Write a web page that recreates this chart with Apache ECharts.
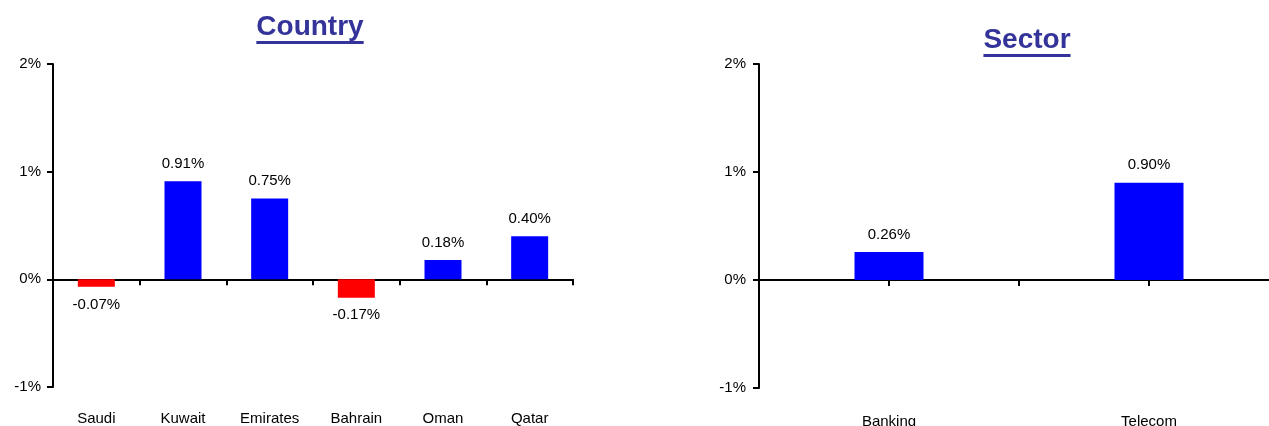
<!DOCTYPE html>
<html>
<head>
<meta charset="utf-8">
<script src="https://cdn.jsdelivr.net/npm/echarts@6/dist/echarts.min.js"></script>
<style>
    html, body { margin: 0; padding: 0; background: #fff; }
    #container { width: 1269px; height: 426px; }
</style>
</head>
<body>
<div id="container"></div>
<script>
// data (daily change, %)
var countries = ['Saudi', 'Kuwait', 'Emirates', 'Bahrain', 'Oman', 'Qatar'];
var countryChange = [-0.07, 0.91, 0.75, -0.17, 0.18, 0.40];
var sectors = ['Banking', 'Telecom'];
var sectorChange = [0.26, 0.90];
var yMin = -1, yMax = 2, yStep = 1;

var FONT = 'Arial, "Liberation Sans", sans-serif';
var TITLE_COLOR = '#333399';

var myChart = echarts.init(document.getElementById('container'));

// measure text to size the title underline
function textWidth(txt, font) {
    var ctx = document.createElement('canvas').getContext('2d');
    ctx.font = font;
    return ctx.measureText(txt).width;
}

function toBars(values) {
    return values.map(function (v) {
        return {
            value: v,
            itemStyle: {color: v < 0 ? '#ff0000' : '#0000ff'},
            label: {position: v < 0 ? 'bottom' : 'top'}
        };
    });
}

function yAxis(grid, margin) {
    return {
        type: 'value',
        gridIndex: grid,
        position: 'left',
        min: yMin,
        max: yMax,
        interval: yStep,
        splitLine: {show: false},
        axisLine: {show: true, lineStyle: {color: '#000', width: 2}},
        axisTick: {show: true, length: 6, lineStyle: {color: '#000', width: 2}},
        axisLabel: {
            margin: margin,
            color: '#000',
            fontSize: 15,
            fontFamily: FONT,
            formatter: '{value}%'
        }
    };
}

function titleGraphic(txt, cx, cy) {
    var font = 'bold 28px ' + FONT;
    var w = textWidth(txt, font);
    return [{
        type: 'text',
        x: cx,
        y: cy,
        style: {
            text: txt,
            fill: TITLE_COLOR,
            font: font,
            textAlign: 'center',
            textVerticalAlign: 'middle'
        }
    }, {
        type: 'rect',
        shape: {x: cx - w / 2, y: cy + 14, width: w, height: 3},
        style: {fill: TITLE_COLOR}
    }];
}

var barLabel = {
    show: true,
    distance: 10,
    color: '#000',
    fontSize: 15,
    fontFamily: FONT,
    formatter: function (p) {
        return p.value.toFixed(2) + '%';
    }
};

var lineStyle = {color: '#000', width: 2};

// hidden twin of the sector value axis, only used to put a second x axis on zero
var sectorTwinAxis = {
    type: 'value', gridIndex: 1, position: 'right', show: false,
    min: yMin, max: yMax, interval: yStep,
    splitLine: {show: false}
};

var option = {
    animation: false,
    backgroundColor: '#fff',
    graphic: titleGraphic('Country', 310, 27).concat(titleGraphic('Sector', 1027, 40)),
    grid: [
        {left: 53, top: 64, width: 520, height: 323, outerBoundsMode: 'none', containLabel: false},
        {left: 759, top: 64, width: 520, height: 324, outerBoundsMode: 'none', containLabel: false}
    ],
    xAxis: [
        // country: line at zero, ticks between categories
        {
            type: 'category', gridIndex: 0, data: countries, position: 'bottom',
            axisLine: {show: true, onZero: true, lineStyle: lineStyle},
            axisTick: {
                show: true,
                length: 6,
                lineStyle: lineStyle,
                interval: function (idx) { return idx > 0; }
            },
            axisLabel: {show: false}
        },
        // country: labels at the bottom of the plot
        {
            type: 'category', gridIndex: 0, data: countries, position: 'bottom',
            axisLine: {show: false, onZero: false},
            axisTick: {show: false},
            axisLabel: {margin: 24, color: '#000', fontSize: 15, fontFamily: FONT, interval: 0}
        },
        // sector: line at zero, ticks under the bars
        {
            type: 'category', gridIndex: 1, data: sectors, position: 'bottom',
            axisLine: {show: true, onZero: true, onZeroAxisIndex: 1, lineStyle: lineStyle},
            axisTick: {show: true, alignWithLabel: true, length: 6, lineStyle: lineStyle},
            axisLabel: {show: false}
        },
        // sector: ticks between the categories (same line drawn again)
        {
            type: 'category', gridIndex: 1, data: sectors, position: 'bottom',
            axisLine: {show: true, onZero: true, onZeroAxisIndex: 2, lineStyle: lineStyle},
            axisTick: {show: true, length: 6, lineStyle: lineStyle},
            axisLabel: {show: false}
        },
        // sector: labels at the bottom
        {
            type: 'category', gridIndex: 1, data: sectors, position: 'bottom',
            axisLine: {show: false, onZero: false},
            axisTick: {show: false},
            axisLabel: {margin: 26, color: '#000', fontSize: 15, fontFamily: FONT, interval: 0}
        }
    ],
    yAxis: [yAxis(0, 12), yAxis(1, 13), sectorTwinAxis],
    series: [
        {
            type: 'bar',
            xAxisIndex: 0,
            yAxisIndex: 0,
            barWidth: 37,
            label: barLabel,
            data: toBars(countryChange)
        },
        {
            type: 'bar',
            xAxisIndex: 2,
            yAxisIndex: 1,
            barWidth: 69,
            label: barLabel,
            data: toBars(sectorChange)
        }
    ]
};

myChart.setOption(option);
</script>
</body>
</html>
